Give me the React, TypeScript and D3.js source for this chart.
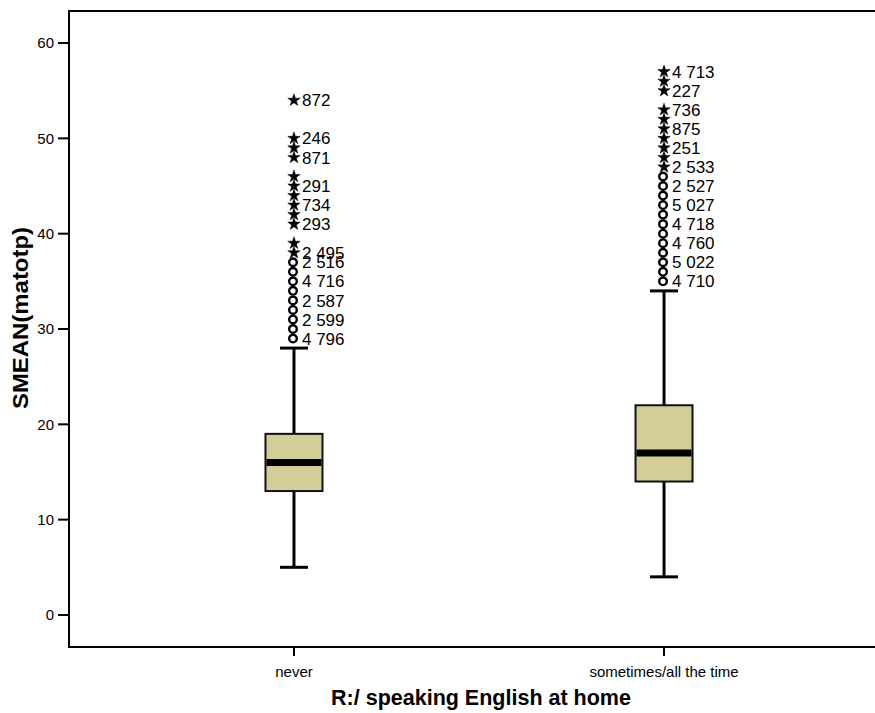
import React from "react";
import * as d3 from "d3";

const categories = ["never", "sometimes/all the time"];
const whiskerLow = [5, 4];
const q1 = [13, 14];
const median = [16, 17];
const q3 = [19, 22];
const whiskerHigh = [28, 34];

const outliersNever = [29, 30, 31, 32, 33, 34, 35, 36, 37];
const extremesNever = [38, 39, 41, 42, 43, 44, 45, 46, 48, 49, 50, 54];
const labelValuesNever = [54, 50, 48, 45, 43, 41, 38, 37, 35, 33, 31, 29];
const labelTextsNever = ["872", "246", "871", "291", "734", "293", "2 495", "2 516", "4 716", "2 587", "2 599", "4 796"];

const outliersSometimes = [35, 36, 37, 38, 39, 40, 41, 42, 43, 44, 45, 46];
const extremesSometimes = [47, 48, 49, 50, 51, 52, 53, 55, 56, 57];
const labelValuesSometimes = [57, 55, 53, 51, 49, 47, 45, 43, 41, 39, 37, 35];
const labelTextsSometimes = ["4 713", "227", "736", "875", "251", "2 533", "2 527", "5 027", "4 718", "4 760", "5 022", "4 710"];

const yTicks = [0, 10, 20, 30, 40, 50, 60];

const outliers = [outliersNever, outliersSometimes];
const extremes = [extremesNever, extremesSometimes];
const labelValues = [labelValuesNever, labelValuesSometimes];
const labelTexts = [labelTextsNever, labelTextsSometimes];

const W = 875;
const H = 713;
const left = 69;
const top = 11;
const bottom = 647;
const rightExt = 889;

const FONT = "'Liberation Sans', Arial, Helvetica, sans-serif";

export default function App() {
  const y = d3.scaleLinear().domain([-3.36, 63.36]).range([bottom, top]);
  const x = d3.scalePoint<string>().domain(categories).range([left, rightExt]).padding(0.608);
  const boxW = 57;
  const capW = 28;
  const star = d3.symbol().type(d3.symbolStar).size(48)();

  return (
    <svg width={W} height={H} style={{ position: "absolute", left: 0, top: 0, background: "#fff" }}>
      <rect x={0} y={0} width={W} height={H} fill="#fff" />
      {/* frame */}
      <path d={`M${W + 10},${top} H${left} V${bottom} H${W + 10}`} fill="none" stroke="#000" strokeWidth={2} />
      {/* y ticks */}
      {yTicks.map((t) => (
        <g key={t}>
          <line x1={left - 11} x2={left} y1={y(t)} y2={y(t)} stroke="#000" strokeWidth={2} />
          <text x={left - 15} y={y(t)} dy="0.35em" textAnchor="end" fontFamily={FONT} fontSize={15} fill="#000">
            {t}
          </text>
        </g>
      ))}
      {/* x ticks */}
      {categories.map((c) => (
        <g key={c}>
          <line x1={x(c)} x2={x(c)} y1={bottom} y2={bottom + 9} stroke="#000" strokeWidth={2} />
          <text x={x(c)} y={bottom + 30} textAnchor="middle" fontFamily={FONT} fontSize={15} fill="#000">
            {c}
          </text>
        </g>
      ))}
      {/* axis titles */}
      <text x={481} y={705} textAnchor="middle" fontFamily={FONT} fontSize={21.5} fontWeight="bold" fill="#000">
        R:/ speaking English at home
      </text>
      <text
        transform={`translate(28,${318}) rotate(-90)`}
        textAnchor="middle"
        fontFamily={FONT}
        fontSize={22}
        fontWeight="bold"
        fill="#000"
        textLength={182}
        lengthAdjust="spacingAndGlyphs"
      >
        SMEAN(matotp)
      </text>
      {/* boxes */}
      {categories.map((c, i) => {
        const cx = x(c)!;
        return (
          <g key={c}>
            <line x1={cx} x2={cx} y1={y(whiskerLow[i])} y2={y(q1[i])} stroke="#000" strokeWidth={3} />
            <line x1={cx} x2={cx} y1={y(q3[i])} y2={y(whiskerHigh[i])} stroke="#000" strokeWidth={3} />
            <line x1={cx - capW / 2} x2={cx + capW / 2} y1={y(whiskerLow[i])} y2={y(whiskerLow[i])} stroke="#000" strokeWidth={3} />
            <line x1={cx - capW / 2} x2={cx + capW / 2} y1={y(whiskerHigh[i])} y2={y(whiskerHigh[i])} stroke="#000" strokeWidth={3} />
            <rect
              x={cx - boxW / 2}
              y={y(q3[i])}
              width={boxW}
              height={y(q1[i]) - y(q3[i])}
              fill="#D3CE97"
              stroke="#111"
              strokeWidth={2}
            />
            <line x1={cx - boxW / 2 + 1} x2={cx + boxW / 2 - 1} y1={y(median[i])} y2={y(median[i])} stroke="#000" strokeWidth={7} />
            {outliers[i].map((v) => (
              <circle key={"o" + v} cx={cx - 1} cy={y(v)} r={3.8} fill="#fff" stroke="#000" strokeWidth={2.4} />
            ))}
            {extremes[i].map((v) => (
              <path key={"e" + v} d={star} transform={`translate(${cx},${y(v)})`} fill="#000" stroke="#000" strokeWidth={0.5} />
            ))}
            {labelValues[i].map((v, j) => (
              <text key={"l" + j} x={cx + 8} y={y(v)} dy="0.36em" fontFamily={FONT} fontSize={17} fill="#000">
                {labelTexts[i][j]}
              </text>
            ))}
          </g>
        );
      })}
    </svg>
  );
}
